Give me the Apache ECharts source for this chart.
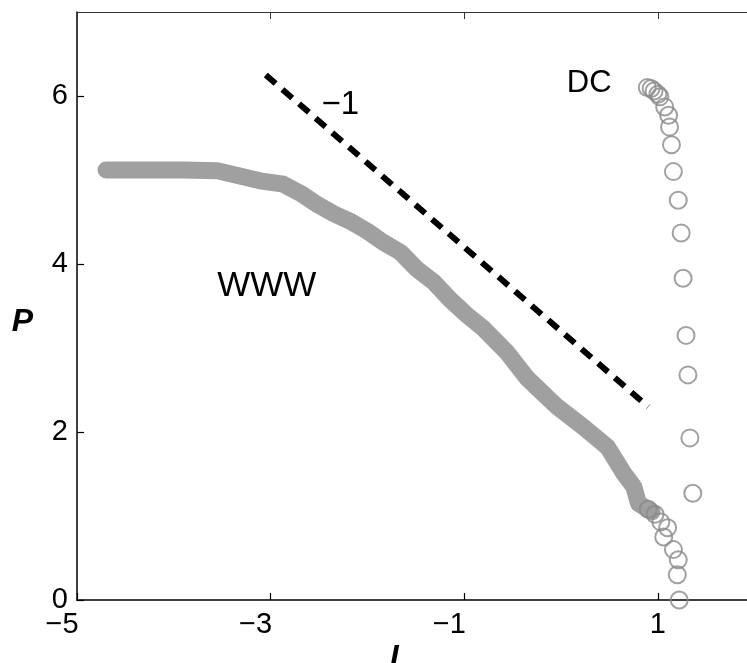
<!DOCTYPE html>
<html>
<head>
<meta charset="utf-8">
<script src="https://cdn.jsdelivr.net/npm/echarts@6/dist/echarts.min.js"></script>
<style>
html,body{margin:0;padding:0;background:#fff;}
#chart{width:747px;height:663px;}
</style>
</head>
<body>
<div id="chart"></div>
<script>
// WWW: dense band of points (l, P)
const wwwBand = [
  [-4.70,5.12],[-4.30,5.12],[-3.90,5.12],[-3.55,5.11],[-3.11,4.99],[-2.87,4.95],
  [-2.69,4.84],[-2.52,4.71],[-2.35,4.60],[-2.18,4.51],[-2.00,4.39],[-1.84,4.26],
  [-1.66,4.14],[-1.49,3.94],[-1.32,3.79],[-1.14,3.57],[-0.97,3.39],[-0.80,3.23],
  [-0.56,2.95],[-0.35,2.64],[-0.04,2.30],[0.23,2.06],[0.48,1.82],[0.64,1.52],
  [0.75,1.35],[0.80,1.15],[0.94,1.05]
];
// WWW: sparse tail points (individual circles)
const wwwTail = [
  [0.90,1.08],[0.97,1.02],[1.03,0.93],[1.06,0.75],[1.10,0.86],[1.16,0.60],
  [1.21,0.48],[1.20,0.30],[1.22,0.00]
];
// DC points
const dcPoints = [
  [0.89,6.10],[0.93,6.09],[0.96,6.06],[1.00,6.02],[1.02,5.99],[1.07,5.87],
  [1.11,5.77],[1.12,5.63],[1.14,5.42],[1.16,5.10],[1.21,4.76],[1.24,4.37],
  [1.26,3.83],[1.29,3.15],[1.31,2.68],[1.33,1.93],[1.36,1.27]
];
// reference slope -1 line
const slopeLine = [[-3.05,6.25],[0.90,2.30]];
const xTickValues = [-5,-3,-1,1];
const yTickValues = [0,2,4,6];
const annotations = [
  {text:'WWW', l:-3.04, p:3.73, size:35},
  {text:'DC', l:0.29, p:6.15, size:31},
  {text:'\u22121', l:-2.28, p:5.89, size:33}
];

const FONT = 'Liberation Sans';
const chart = echarts.init(document.getElementById('chart'), null, {renderer:'canvas'});

const option = {
  animation:false,
  backgroundColor:'#ffffff',
  grid: {left:77, top:12, right:0, height:588, containLabel:false, outerBoundsMode:'none'},
  xAxis: [{
    type:'value', min:-5, max:1.92, interval:2,
    axisLine:{show:true, onZero:false, lineStyle:{color:'#000', width:1.5}},
    axisTick:{show:true, inside:true, length:7, lineStyle:{color:'#000', width:1.2}},
    splitLine:{show:false},
    axisLabel:{
      margin:10, showMinLabel:true, showMaxLabel:false,
      formatter: v => xTickValues.indexOf(v) < 0 ? '' : (v < 0 ? '{n|\u2212' + Math.abs(v) + '}' : '{p|' + v + '}'),
      rich:{
        n:{fontFamily:FONT, fontSize:29, color:'#000', padding:[0,30,0,0]},
        p:{fontFamily:FONT, fontSize:29, color:'#000'}
      }
    },
    name:'l', nameLocation:'middle', nameGap:36,
    nameTextStyle:{fontFamily:FONT, fontSize:33, fontWeight:'bold', fontStyle:'italic', color:'#000', padding:[0,36,0,0]}
  },{
    type:'value', min:-5, max:1.92, interval:2, position:'top',
    axisLine:{show:true, onZero:false, lineStyle:{color:'#333', width:1}},
    axisTick:{show:true, inside:true, length:7, lineStyle:{color:'#333', width:1}},
    axisLabel:{show:false}, splitLine:{show:false}
  }],
  yAxis: [{
    type:'value', min:0, max:7, interval:2,
    axisLine:{show:true, onZero:false, lineStyle:{color:'#000', width:1.5}},
    axisTick:{show:true, inside:true, length:7, lineStyle:{color:'#000', width:1.2}},
    splitLine:{show:false},
    axisLabel:{margin:9, fontFamily:FONT, fontSize:29, color:'#000', showMaxLabel:false,
      formatter: v => yTickValues.indexOf(v) < 0 ? '' : String(v)},
    name:'P', nameLocation:'middle', nameGap:44, nameRotate:0,
    nameTextStyle:{fontFamily:FONT, fontSize:32, fontWeight:'bold', fontStyle:'italic', color:'#000', verticalAlign:'top'}
  }],
  series: [
    {
      name:'WWW', type:'line', data:wwwBand, symbol:'none', smooth:false,
      lineStyle:{color:'#a0a0a0', width:17, cap:'round', join:'round'},
      z:2
    },
    {
      name:'WWW tail', type:'scatter', data:wwwTail, symbol:'circle', symbolSize:17,
      itemStyle:{color:'transparent', borderColor:'#8a8a8a', borderWidth:2}, z:3
    },
    {
      name:'DC', type:'scatter', data:dcPoints, symbol:'circle', symbolSize:17,
      itemStyle:{color:'transparent', borderColor:'#8a8a8a', borderWidth:2}, z:3
    },
    {
      name:'slope', type:'line', data:slopeLine, symbol:'none',
      lineStyle:{color:'#000', width:6, type:[13,9], cap:'butt'}, z:4
    }
  ]
};
chart.setOption(option);

const g = annotations.map(a => {
  const pt = chart.convertToPixel({gridIndex:0}, [a.l, a.p]);
  return {type:'text', x:pt[0], y:pt[1], style:{text:a.text, fontFamily:FONT, fontSize:a.size, fill:'#000', textAlign:'center', textVerticalAlign:'middle'}};
});
chart.setOption({graphic:g});
</script>
</body>
</html>
